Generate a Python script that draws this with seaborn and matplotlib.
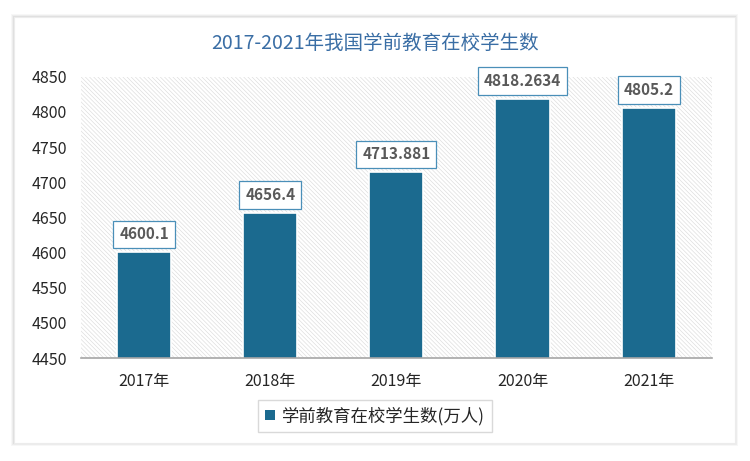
import matplotlib
matplotlib.use("Agg")
import matplotlib.pyplot as plt
import seaborn as sns
import pandas as pd
from matplotlib.patches import Rectangle, Patch

years = ["2017年", "2018年", "2019年", "2020年", "2021年"]
students = [4600.1, 4656.4, 4713.881, 4818.2634, 4805.2]
value_labels = ["4600.1", "4656.4", "4713.881", "4818.2634", "4805.2"]
series_name = "学前教育在校学生数(万人)"
title = "2017-2021年我国学前教育在校学生数"

df = pd.DataFrame({"year": years, "students": students})

sns.set_theme(style="white")
plt.rcParams["font.family"] = ["Noto Sans CJK SC", "DejaVu Sans"]
plt.rcParams["hatch.linewidth"] = 0.45

bar_color = "#1b6a8f"

fig = plt.figure(figsize=(7.5, 4.61), dpi=100)
fig.patch.set_facecolor("white")

# card with soft shadow
for i, a in enumerate([0.03, 0.04, 0.05]):
    off = (3 - i) * 0.0012
    fig.patches.append(Rectangle((0.0187 - off, 0.039 - off * 1.6), 0.9613 + 2 * off, 0.924 + 2 * off * 1.6,
                                 transform=fig.transFigure, facecolor="black", edgecolor="none",
                                 alpha=a, zorder=-2))
fig.patches.append(Rectangle((0.0187, 0.039), 0.9613, 0.924, transform=fig.transFigure,
                             facecolor="white", edgecolor="#ececec", lw=0.8, zorder=-1))

ax = fig.add_axes([0.108, 0.2234, 0.841, 0.61])
ax.set_zorder(1)
ax.set_facecolor("none")
# light diagonal hatch behind the bars
ax.add_patch(Rectangle((0, 0), 1, 1, transform=ax.transAxes, facecolor="white",
                       edgecolor="#dcdcdc", lw=0, hatch="\\" * 8, zorder=0))

sns.barplot(data=df, x="year", y="students", color=bar_color, saturation=1,
            width=0.43, edgecolor="white", linewidth=1.2, ax=ax, zorder=2)

ax.set_ylim(4450, 4850)
ax.set_yticks(range(4450, 4851, 50))
ax.set_xlabel("")
ax.set_ylabel("")
for s in ["top", "right", "left"]:
    ax.spines[s].set_visible(False)
ax.spines["bottom"].set_color("#a6a6a6")
ax.spines["bottom"].set_linewidth(1.2)
ax.spines["bottom"].set_zorder(3)
ax.tick_params(axis="y", labelsize=11.5, colors="#262626", length=0, pad=10)
ax.tick_params(axis="x", labelsize=11.5, colors="#262626", length=0, pad=11)

for i, (v, lab) in enumerate(zip(students, value_labels)):
    ax.annotate(lab, xy=(i, v), xytext=(0, 13), textcoords="offset points",
                ha="center", va="center", fontsize=11, fontweight="bold", color="#595959",
                bbox=dict(boxstyle="square,pad=0.38", facecolor="white", edgecolor="#4a8fb8", lw=0.9),
                zorder=5, annotation_clip=False)

fig.text(0.5, 0.905, title, ha="center", va="center", fontsize=14, color="#3a6ea5")

handle = Patch(facecolor=bar_color, edgecolor="none")
leg = fig.legend([handle], [series_name], loc="center", bbox_to_anchor=(0.5, 0.098),
                 frameon=True, fancybox=False, fontsize=12.5, handlelength=0.55, handleheight=0.55,
                 handletextpad=0.4, borderpad=0.4, borderaxespad=0)
leg.get_frame().set_edgecolor("#d0d0d0")
leg.get_frame().set_linewidth(1.0)
leg.get_texts()[0].set_color("#262626")

fig.savefig("out.png", dpi=100)
